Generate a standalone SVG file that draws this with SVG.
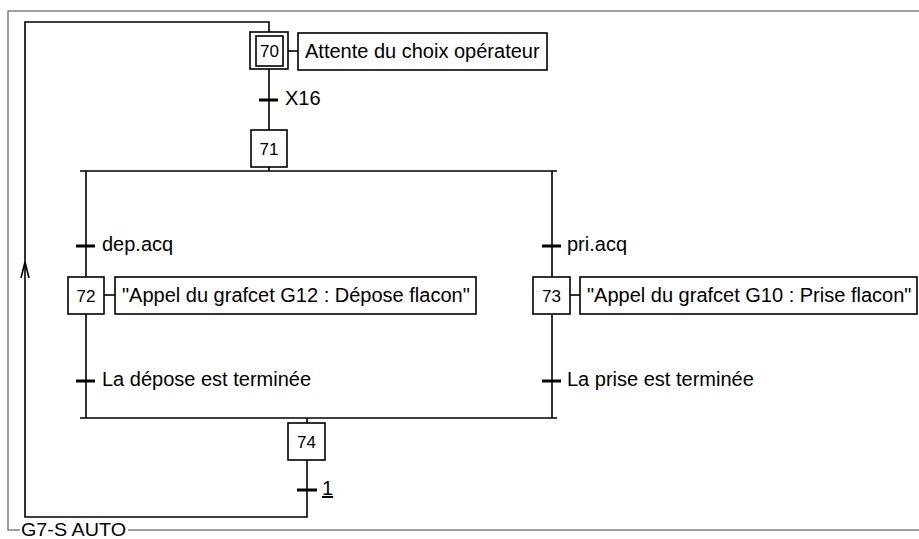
<svg xmlns="http://www.w3.org/2000/svg" width="919" height="539" viewBox="0 0 919 539">
<style>
.ln{fill:none;stroke:#000;stroke-width:1.6}
.box{fill:#fff;stroke:#000;stroke-width:1.6}
.tick{stroke:#000;stroke-width:3}
.num{font-family:"Liberation Sans",Arial,sans-serif;font-size:17px;text-anchor:middle;fill:#000}
.lbl{font-family:"Liberation Sans",Arial,sans-serif;font-size:20px;fill:#000}
.frame{fill:none;stroke:#808080;stroke-width:1.5}
</style>
<rect width="919" height="539" fill="#fff"/>
<g id="frame">
<path class="frame" d="M919,11 H8 V530 H20 M128,530 H919"/>
<text class="lbl" x="21" y="536" style="font-size:19px" textLength="105" lengthAdjust="spacingAndGlyphs">G7-S AUTO</text>
</g>
<g id="connectors">
<path class="ln" d="M269,32 V22 H25 V517 H307 V460"/>
<path class="ln" d="M21,278 L25,262 L29,278"/>
<path class="ln" d="M269,69 V130"/>
<path class="ln" d="M269,167 V171"/>
<path class="ln" d="M80,171 H557"/>
<path class="ln" d="M86,171 V277 M86,314 V418"/>
<path class="ln" d="M552,171 V277 M552,314 V418"/>
<path class="ln" d="M80,418 H557"/>
<path class="ln" d="M307,418 V423"/>
<path class="ln" d="M288,51 H298"/>
<path class="ln" d="M104,295 H115"/>
<path class="ln" d="M570,295 H580"/>
</g>
<g id="t_x16">
<line class="tick" x1="259" y1="100" x2="278" y2="100"/>
<text class="lbl" x="285" y="105">X16</text>
</g>
<g id="t_depacq">
<line class="tick" x1="76" y1="246" x2="95" y2="246"/>
<text class="lbl" x="102" y="251">dep.acq</text>
</g>
<g id="t_priacq">
<line class="tick" x1="542" y1="246" x2="561" y2="246"/>
<text class="lbl" x="567" y="251">pri.acq</text>
</g>
<g id="t_depose">
<line class="tick" x1="76" y1="381" x2="95" y2="381"/>
<text class="lbl" x="102" y="386">La dépose est terminée</text>
</g>
<g id="t_prise">
<line class="tick" x1="542" y1="381" x2="561" y2="381"/>
<text class="lbl" x="567" y="386">La prise est terminée</text>
</g>
<g id="t_1">
<line class="tick" x1="297" y1="490" x2="317" y2="490"/>
<text class="lbl" x="322" y="495" text-decoration="underline">1</text>
</g>
<g id="step70">
<rect class="box" x="250" y="32" width="38" height="37"/>
<rect class="box" x="256" y="36" width="27" height="30"/>
<text class="num" x="269.5" y="57">70</text>
</g>
<g id="action70">
<rect class="box" x="298" y="33" width="249" height="37"/>
<text class="lbl" x="305" y="58">Attente du choix opérateur</text>
</g>
<g id="step71">
<rect class="box" x="251" y="130" width="36" height="37"/>
<text class="num" x="269" y="155">71</text>
</g>
<g id="step72">
<rect class="box" x="68" y="277" width="36" height="37"/>
<text class="num" x="86" y="302">72</text>
</g>
<g id="action72">
<rect class="box" x="115" y="277" width="361" height="37"/>
<text class="lbl" x="122" y="302">"Appel du grafcet G12 : Dépose flacon"</text>
</g>
<g id="step73">
<rect class="box" x="533" y="277" width="37" height="37"/>
<text class="num" x="551.5" y="302">73</text>
</g>
<g id="action73">
<rect class="box" x="580" y="277" width="337" height="37"/>
<text class="lbl" x="587" y="302">"Appel du grafcet G10 : Prise flacon"</text>
</g>
<g id="step74">
<rect class="box" x="288" y="423" width="37" height="37"/>
<text class="num" x="306.5" y="448">74</text>
</g>
</svg>
